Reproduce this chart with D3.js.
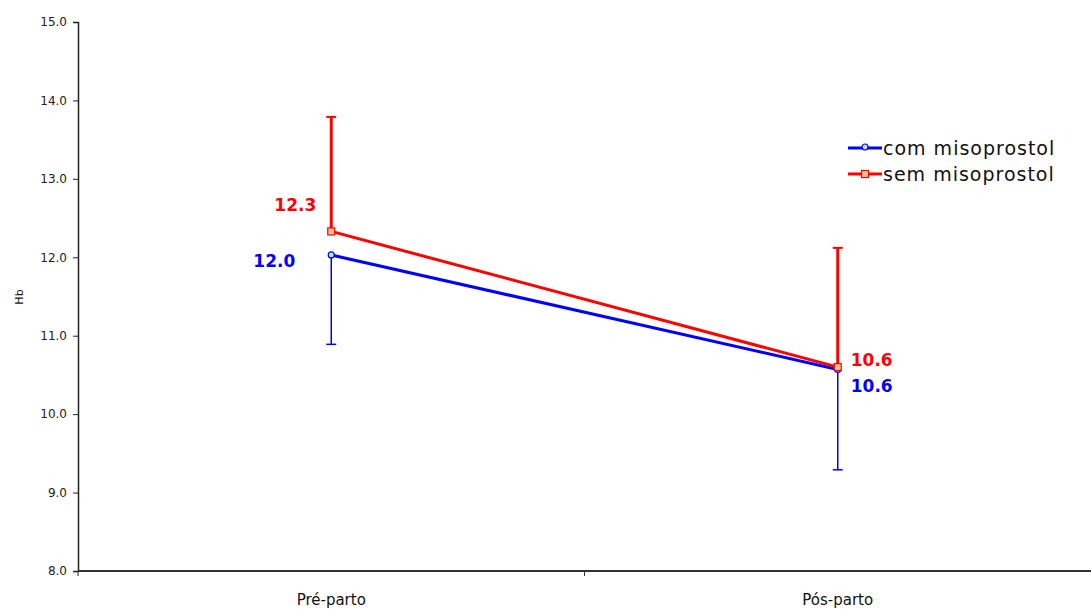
<!DOCTYPE html>
<html>
<head>
<meta charset="utf-8">
<script src="https://cdn.jsdelivr.net/npm/d3@7"></script>
<style>
  body { margin: 0; background: #fff; }
  text { font-family: "DejaVu Sans", Verdana, sans-serif; }
</style>
</head>
<body>
<div id="chart"></div>
<script>
const categories = ["Pré-parto", "Pós-parto"];
const comMeans = [12.03, 10.57];
const comLower = [10.89, 9.29];
const semMeans = [12.33, 10.6];
const semUpper = [13.79, 12.12];
const comLabels = ["12.0", "10.6"];
const semLabels = ["12.3", "10.6"];
const yTicks = [8, 9, 10, 11, 12, 13, 14, 15];

const W = 1091, H = 613;
const margin = { left: 78, right: 0, top: 22, bottom: 42 };
const width = W - margin.left - margin.right;
const height = H - margin.top - margin.bottom;

const svg = d3.select("#chart").append("svg")
    .attr("width", W)
    .attr("height", H);

const g = svg.append("g")
    .attr("transform", `translate(${margin.left}, ${margin.top})`);

const xScale = d3.scaleBand().domain(categories).range([0, width]);
const yScale = d3.scaleLinear().domain([8, 15]).range([height, 0]);
const cx = c => xScale(c) + xScale.bandwidth() / 2;

// y axis
const yAxis = g.append("g")
    .call(d3.axisLeft(yScale).tickValues(yTicks).tickFormat(d3.format(".1f")).tickSizeOuter(0).tickSize(5));
yAxis.select(".domain").attr("stroke", "#222").attr("stroke-width", 1.5);
yAxis.selectAll(".tick line").attr("stroke", "#222");
yAxis.selectAll("text").attr("font-size", 12).attr("fill", "#222").attr("dx", -3);

// x axis with ticks between categories
const xAxis = g.append("g").attr("transform", `translate(0, ${height})`);
xAxis.append("line")
    .attr("x1", 0).attr("x2", width)
    .attr("stroke", "#333").attr("stroke-width", 2);
xAxis.selectAll(".sep").data(categories.slice(1)).join("line")
    .attr("x1", d => xScale(d)).attr("x2", d => xScale(d))
    .attr("y1", 0).attr("y2", 5)
    .attr("stroke", "#333");
xAxis.append("line").attr("x1", 0).attr("x2", 0).attr("y1", 0).attr("y2", 5).attr("stroke", "#222");
xAxis.selectAll(".lbl").data(categories).join("text")
    .attr("x", d => cx(d))
    .attr("y", 34)
    .attr("text-anchor", "middle")
    .attr("font-size", 15)
    .attr("fill", "#111")
    .text(d => d);

// y title
svg.append("text")
    .attr("transform", `translate(23, 297) rotate(-90)`)
    .attr("text-anchor", "middle")
    .attr("font-size", 11)
    .attr("fill", "#111")
    .text("Hb");

// error bars
const capW = 5;
function errBar(means, ends, color, sw) {
    categories.forEach((c, i) => {
        const x = cx(c);
        g.append("line")
            .attr("x1", x).attr("x2", x)
            .attr("y1", yScale(means[i])).attr("y2", yScale(ends[i]))
            .attr("stroke", color).attr("stroke-width", sw);
        g.append("line")
            .attr("x1", x - capW).attr("x2", x + capW)
            .attr("y1", yScale(ends[i])).attr("y2", yScale(ends[i]))
            .attr("stroke", color).attr("stroke-width", sw === 3 ? 2 : 1.5);
    });
}
errBar(comMeans, comLower, "#0000ff", 1.5);
errBar(semMeans, semUpper, "#ff0000", 3);

const line = d3.line()
    .x((d, i) => cx(categories[i]))
    .y(d => yScale(d));

g.append("path").attr("d", line(comMeans))
    .attr("fill", "none").attr("stroke", "#0000ff").attr("stroke-width", 3);
g.append("path").attr("d", line(semMeans))
    .attr("fill", "none").attr("stroke", "#ff0000").attr("stroke-width", 3);

// markers
g.selectAll(".comPt").data(comMeans).join("circle")
    .attr("cx", (d, i) => cx(categories[i]))
    .attr("cy", d => yScale(d))
    .attr("r", 3)
    .attr("fill", "#bfe0ff").attr("stroke", "#0000ff").attr("stroke-width", 1.2);
g.selectAll(".semPt").data(semMeans).join("rect")
    .attr("x", (d, i) => cx(categories[i]) - 3.5)
    .attr("y", d => yScale(d) - 3.5)
    .attr("width", 7).attr("height", 7)
    .attr("fill", "#ffc08f").attr("stroke", "#ff0000").attr("stroke-width", 1.2);

// value labels
function valLabel(x, y, anchor, color, txt) {
    g.append("text").attr("x", x).attr("y", y)
        .attr("text-anchor", anchor).attr("font-weight", "bold")
        .attr("font-size", 17).attr("fill", color).text(txt);
}
valLabel(cx(categories[0]) - 15, yScale(semMeans[0]) - 20, "end", "#ff0000", semLabels[0]);
valLabel(cx(categories[0]) - 36, yScale(comMeans[0]) + 12, "end", "#0000ff", comLabels[0]);
valLabel(cx(categories[1]) + 13, yScale(semMeans[1]) - 1, "start", "#ff0000", semLabels[1]);
valLabel(cx(categories[1]) + 13, yScale(comMeans[1]) + 23, "start", "#0000ff", comLabels[1]);

// legend
const legend = svg.append("g").attr("transform", "translate(848, 148)");
const legendItems = [
    { name: "com misoprostol", color: "#0000ff", shape: "circle" },
    { name: "sem misoprostol", color: "#ff0000", shape: "rect" }
];
legendItems.forEach((it, i) => {
    const row = legend.append("g").attr("transform", `translate(0, ${i * 26})`);
    row.append("line").attr("x1", 0).attr("x2", 34)
        .attr("stroke", it.color).attr("stroke-width", 3);
    if (it.shape === "circle") {
        row.append("circle").attr("cx", 17).attr("cy", -1).attr("r", 3)
            .attr("fill", "#bfe0ff").attr("stroke", it.color).attr("stroke-width", 1.2);
    } else {
        row.append("rect").attr("x", 13.5).attr("y", -3.5).attr("width", 7).attr("height", 7)
            .attr("fill", "#ffc08f").attr("stroke", it.color).attr("stroke-width", 1.2);
    }
    row.append("text").attr("x", 35).attr("y", 7)
        .attr("font-size", 19).attr("letter-spacing", 1)
        .attr("fill", "#111").text(it.name);
});
</script>
</body>
</html>
